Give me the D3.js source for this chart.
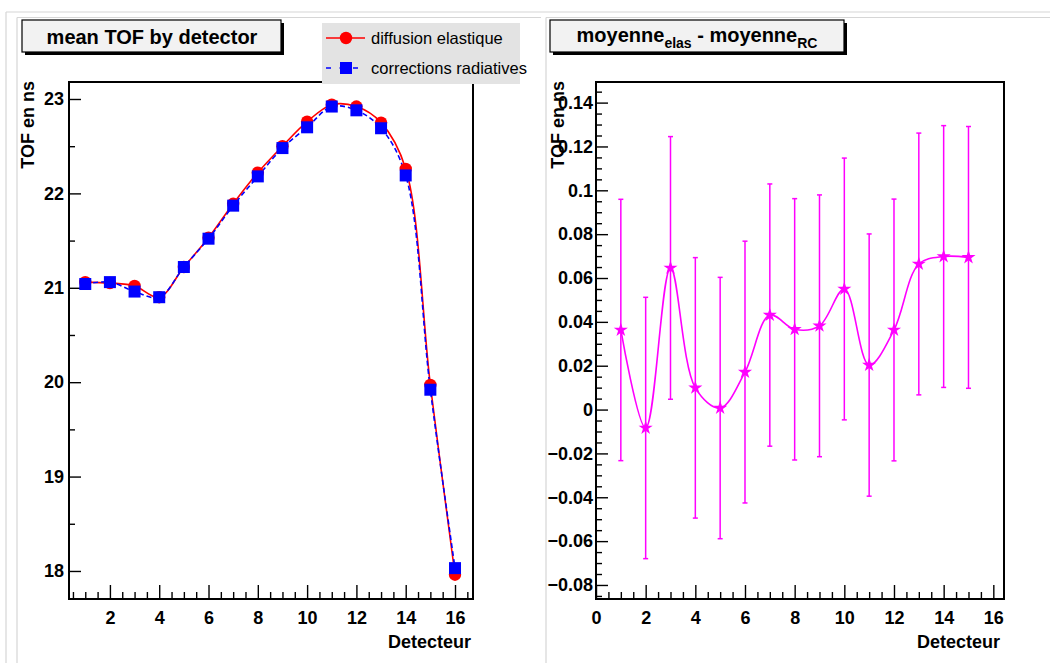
<!DOCTYPE html>
<html>
<head>
<meta charset="utf-8">
<script src="https://cdn.jsdelivr.net/npm/d3@7"></script>
<style>
  html, body { margin: 0; padding: 0; background: #ffffff; }
  svg { display: block; }
  text { font-family: "Liberation Sans", Arial, Helvetica, sans-serif; }
</style>
</head>
<body>
<svg id="chart" width="1050" height="663"></svg>
<script>
// ---------------- data ----------------
const detectors = [1, 2, 3, 4, 5, 6, 7, 8, 9, 10, 11, 12, 13, 14, 15, 16];
const tofElastique = [21.06, 21.05, 21.02, 20.90, 21.22, 21.53, 21.89, 22.22, 22.50, 22.76, 22.94, 22.92, 22.75, 22.26, 19.97, 17.96];
const tofRadiatives = [21.04, 21.06, 20.96, 20.90, 21.22, 21.52, 21.87, 22.18, 22.48, 22.70, 22.92, 22.88, 22.69, 22.19, 19.92, 18.03];

const diffDetectors = [1, 2, 3, 4, 5, 6, 7, 8, 9, 10, 11, 12, 13, 14, 15];
const diffValues = [0.0363, -0.0084, 0.0646, 0.0099, 0.0007, 0.0171, 0.0431, 0.0366, 0.0382, 0.0550, 0.0203, 0.0363, 0.0664, 0.0698, 0.0694];
const diffErrors = [0.0596, 0.0596, 0.0599, 0.0594, 0.0596, 0.0597, 0.0598, 0.0596, 0.0597, 0.0597, 0.0598, 0.0597, 0.0597, 0.0597, 0.0597];

const leftXTicks = [2, 4, 6, 8, 10, 12, 14, 16];
const leftYTicks = [18, 19, 20, 21, 22, 23];
const rightXTicks = [0, 2, 4, 6, 8, 10, 12, 14, 16];
const rightYTicks = [-0.08, -0.06, -0.04, -0.02, 0, 0.02, 0.04, 0.06, 0.08, 0.1, 0.12, 0.14];

const leftTitle = "mean TOF by detector";
const legendLabels = ["diffusion elastique", "corrections radiatives"];
const xTitle = "Detecteur";
const yTitle = "TOF en ns";

// ---------------- layout ----------------
const svg = d3.select("#chart");
const FONT = '"Liberation Sans", Arial, Helvetica, sans-serif';

// canvas / pad border lines
const borderCol = "#d6d6d6";
const bl = svg.append("g").attr("stroke", borderCol).attr("stroke-width", 1.2).attr("fill", "none");
bl.append("line").attr("x1", 6).attr("y1", 12).attr("x2", 1050).attr("y2", 12);
bl.append("line").attr("x1", 6).attr("y1", 12).attr("x2", 6).attr("y2", 663);
bl.append("line").attr("x1", 17).attr("y1", 17.5).attr("x2", 541).attr("y2", 17.5);
bl.append("line").attr("x1", 17).attr("y1", 17.5).attr("x2", 17).attr("y2", 663);
bl.append("line").attr("x1", 546).attr("y1", 17.5).attr("x2", 1050).attr("y2", 17.5);
bl.append("line").attr("x1", 546).attr("y1", 17.5).attr("x2", 546).attr("y2", 663);

function drawFrameAxes(g, F, x, y, xMajor, xMinor, yMajor, yMinor, yFmt, xLabelPad, yLabelPad) {
  const xa = g.append("g").attr("transform", `translate(0,${F.y1})`)
    .call(d3.axisBottom(x).tickValues(xMajor).tickSize(-14).tickPadding(xLabelPad).tickFormat(d3.format("d")));
  const xm = g.append("g").attr("transform", `translate(0,${F.y1})`)
    .call(d3.axisBottom(x).tickValues(xMinor).tickSize(-7).tickFormat(""));
  const ya = g.append("g").attr("transform", `translate(${F.x0},0)`)
    .call(d3.axisLeft(y).tickValues(yMajor).tickSize(-12).tickPadding(yLabelPad).tickFormat(yFmt));
  const ym = g.append("g").attr("transform", `translate(${F.x0},0)`)
    .call(d3.axisLeft(y).tickValues(yMinor).tickSize(-6).tickFormat(""));
  [xa, xm, ya, ym].forEach(a => {
    a.select(".domain").remove();
    a.selectAll("line").attr("stroke", "#000").attr("stroke-width", 1.4);
    a.selectAll("text").attr("font-family", FONT).attr("font-weight", "bold")
      .attr("font-size", 18).attr("fill", "#000");
  });
  g.append("rect").attr("x", F.x0).attr("y", F.y0)
    .attr("width", F.x1 - F.x0).attr("height", F.y1 - F.y0)
    .attr("fill", "none").attr("stroke", "#000").attr("stroke-width", 2);
  g.append("text").attr("x", F.titleRight).attr("y", 648)
    .attr("text-anchor", "end").attr("font-family", FONT).attr("font-weight", "bold")
    .attr("font-size", 18).text(xTitle);
  g.append("text").attr("transform", `translate(${F.yTitleX},81) rotate(-90)`)
    .attr("text-anchor", "end").attr("font-family", FONT).attr("font-weight", "bold")
    .attr("font-size", 18).text(yTitle);
}

function titleBox(g, x0, y0, x1, y1) {
  g.append("rect").attr("x", x0 + 3).attr("y", y0 + 3).attr("width", x1 - x0).attr("height", y1 - y0)
    .attr("fill", "#000");
  g.append("rect").attr("x", x0).attr("y", y0).attr("width", x1 - x0).attr("height", y1 - y0)
    .attr("fill", "#f2f2f2").attr("stroke", "#000").attr("stroke-width", 1.2);
}

// ---------------- left panel ----------------
const FL = { x0: 69, x1: 473, y0: 82, y1: 599, titleRight: 471, yTitleX: 34 };
const xL = d3.scaleLinear().domain([0.34, 16.73]).range([FL.x0, FL.x1]);
const yL = d3.scaleLinear().domain([17.703, 23.18]).range([FL.y1, FL.y0]);
const gL = svg.append("g");
const minorXL = d3.range(0.5, 16.73, 0.5).filter(v => v % 2 !== 0);
const minorYL = [18.5, 19.5, 20.5, 21.5, 22.5];
drawFrameAxes(gL, FL, xL, yL, leftXTicks, minorXL, leftYTicks, minorYL, d3.format("d"), 12, 5);

gL.append("clipPath").attr("id", "clipL").append("rect")
  .attr("x", FL.x0).attr("y", FL.y0).attr("width", FL.x1 - FL.x0).attr("height", FL.y1 - FL.y0);
const plotL = gL.append("g").attr("clip-path", "url(#clipL)");

const elasPts = detectors.map((d, i) => [d, tofElastique[i]]);
const rcPts = detectors.map((d, i) => [d, tofRadiatives[i]]);
const lineL = d3.line().x(d => xL(d[0])).y(d => yL(d[1])).curve(d3.curveCatmullRom.alpha(0.5));

plotL.append("path").attr("d", lineL(elasPts)).attr("fill", "none")
  .attr("stroke", "#ff0000").attr("stroke-width", 1.6);
plotL.append("path").attr("d", lineL(rcPts)).attr("fill", "none")
  .attr("stroke", "#0000ff").attr("stroke-width", 1.6).attr("stroke-dasharray", "5,3");
plotL.selectAll("circle.elas").data(elasPts).join("circle").attr("class", "elas")
  .attr("cx", d => xL(d[0])).attr("cy", d => yL(d[1])).attr("r", 6.2).attr("fill", "#ff0000");
plotL.selectAll("rect.rc").data(rcPts).join("rect").attr("class", "rc")
  .attr("x", d => xL(d[0]) - 6).attr("y", d => yL(d[1]) - 6).attr("width", 12).attr("height", 12)
  .attr("fill", "#0000ff");

titleBox(gL, 22, 20, 281, 52);
gL.append("text").attr("x", 152).attr("y", 44).attr("text-anchor", "middle")
  .attr("font-family", FONT).attr("font-weight", "bold").attr("font-size", 20).text(leftTitle);

// legend
const lg = svg.append("g");
lg.append("rect").attr("x", 322).attr("y", 23).attr("width", 198).attr("height", 61).attr("fill", "#e3e3e3");
const legRows = [38, 68];
lg.append("line").attr("x1", 326).attr("x2", 365).attr("y1", legRows[0]).attr("y2", legRows[0])
  .attr("stroke", "#ff0000").attr("stroke-width", 1.6);
lg.append("circle").attr("cx", 346).attr("cy", legRows[0]).attr("r", 6.2).attr("fill", "#ff0000");
lg.append("line").attr("x1", 326).attr("x2", 365).attr("y1", legRows[1]).attr("y2", legRows[1])
  .attr("stroke", "#0000ff").attr("stroke-width", 1.6).attr("stroke-dasharray", "5,8.5");
lg.append("rect").attr("x", 340).attr("y", legRows[1] - 6).attr("width", 12).attr("height", 12).attr("fill", "#0000ff");
legendLabels.forEach((t, i) => {
  lg.append("text").attr("x", 371).attr("y", legRows[i] + 6).attr("font-family", FONT)
    .attr("font-size", 16.5).attr("fill", "#000").text(t);
});

// ---------------- right panel ----------------
const FR = { x0: 596, x1: 1004, y0: 82, y1: 599, titleRight: 1000, yTitleX: 564 };
const xR = d3.scaleLinear().domain([0, 16.43]).range([FR.x0, FR.x1]);
const yR = d3.scaleLinear().domain([-0.0864, 0.1494]).range([FR.y1, FR.y0]);
const gR = svg.append("g");
const minorXR = d3.range(0.5, 16.43, 0.5).filter(v => v % 2 !== 0);
const minorYR = d3.range(-17, 30).map(k => k * 0.005).filter(v => Math.abs(Math.round(v * 1000) % 20) !== 0 && v > -0.0864 && v < 0.1494);
const fmtR = v => (Math.abs(v) < 1e-9 ? "0" : d3.format("")(+v.toFixed(2)));
drawFrameAxes(gR, FR, xR, yR, rightXTicks, minorXR, rightYTicks, minorYR, fmtR, 12, 3);

const plotR = gR.append("g");
const diffPts = diffDetectors.map((d, i) => [d, diffValues[i], diffErrors[i]]);
const lineR = d3.line().x(d => xR(d[0])).y(d => yR(d[1])).curve(d3.curveCatmullRom.alpha(0.5));
const mag = "#ff00ff";
plotR.append("path").attr("d", lineR(diffPts)).attr("fill", "none")
  .attr("stroke", mag).attr("stroke-width", 1.6);
const eb = plotR.selectAll("g.eb").data(diffPts).join("g").attr("class", "eb")
  .attr("stroke", mag).attr("stroke-width", 1.5);
eb.append("line").attr("x1", d => xR(d[0])).attr("x2", d => xR(d[0]))
  .attr("y1", d => yR(d[1] - d[2])).attr("y2", d => yR(d[1] + d[2]));
eb.append("line").attr("x1", d => xR(d[0]) - 2.5).attr("x2", d => xR(d[0]) + 2.5)
  .attr("y1", d => yR(d[1] - d[2])).attr("y2", d => yR(d[1] - d[2]));
eb.append("line").attr("x1", d => xR(d[0]) - 2.5).attr("x2", d => xR(d[0]) + 2.5)
  .attr("y1", d => yR(d[1] + d[2])).attr("y2", d => yR(d[1] + d[2]));
plotR.selectAll("path.star").data(diffPts).join("path").attr("class", "star")
  .attr("d", d3.symbol().type(d3.symbolStar).size(62))
  .attr("transform", d => `translate(${xR(d[0])},${yR(d[1])})`)
  .attr("fill", mag);

titleBox(gR, 550, 20, 844, 52);
const tt = gR.append("text").attr("x", 697).attr("y", 42).attr("text-anchor", "middle")
  .attr("font-family", FONT).attr("font-weight", "bold").attr("font-size", 20);
tt.append("tspan").text("moyenne");
tt.append("tspan").attr("font-size", 14).attr("dy", 6).text("elas");
tt.append("tspan").attr("dy", -6).text(" - moyenne");
tt.append("tspan").attr("font-size", 14).attr("dy", 6).text("RC");
</script>
</body>
</html>
